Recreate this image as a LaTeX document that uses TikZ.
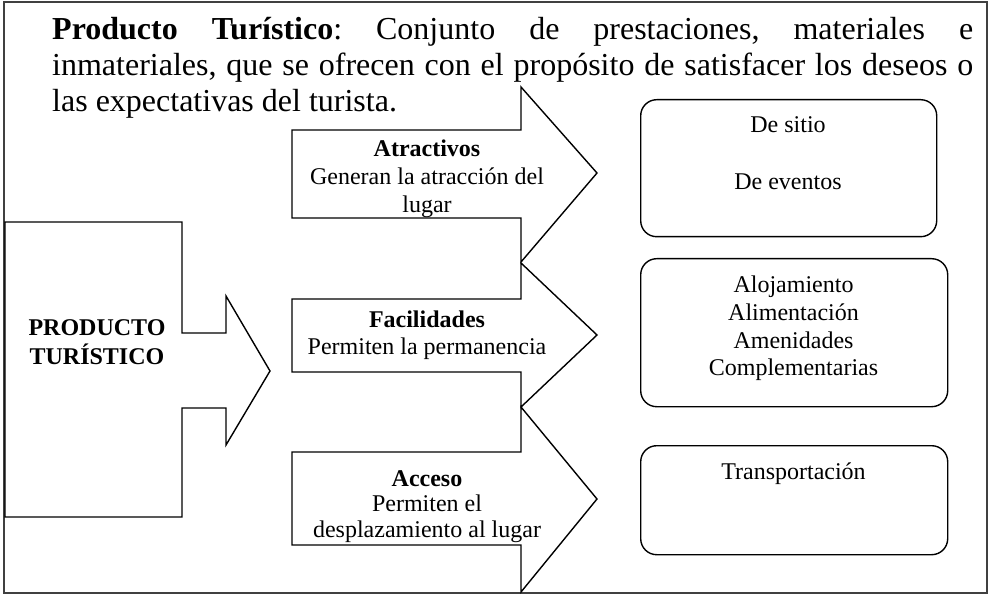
\documentclass[tikz,border=0pt]{standalone}
\usepackage{fontspec}
\setmainfont{Liberation Serif}
\frenchspacing
\begin{document}
\begin{tikzpicture}[x=1pt,y=-1pt,
  shp/.style={draw=black, line width=1.4pt, line join=miter},
  rbox/.style={draw=black, line width=1.4pt, rounded corners=16pt, inner sep=0pt},
  lbl/.style={font=\fontsize{24}{27.5}\selectfont, anchor=base, inner sep=0pt},
  ttl/.style={font=\fontsize{32}{36}\selectfont, anchor=base west, inner sep=0pt}]
\useasboundingbox (0,0) rectangle (991,596);
% outer frame
\draw[line width=2pt, black!75] (4,2) rectangle (987,593);
% big arrow
\draw[shp] (5,222) -- (182,222) -- (182,333) -- (226,333) -- (226,296) -- (270,371)
  -- (226,445) -- (226,408) -- (182,408) -- (182,517) -- (5,517) -- cycle;
% three arrows
\draw[shp] (292,130) -- (521,130) -- (521,87) -- (597,173) -- (521,262) -- (521,218) -- (292,218) -- cycle;
\draw[shp] (292,299) -- (521,299) -- (521,263) -- (597,335) -- (521,407) -- (521,372) -- (292,372) -- cycle;
\draw[shp] (292,452) -- (521,452) -- (521,407) -- (597,499) -- (521,592) -- (521,545) -- (292,545) -- cycle;
% rounded boxes
\node[rbox, minimum width=296pt, minimum height=137pt, anchor=north west] (b1) at (640,99) {};
\node[rbox, minimum width=307pt, minimum height=148pt, anchor=north west] (b2) at (640,258) {};
\node[rbox, minimum width=307pt, minimum height=109pt, anchor=north west] (b3) at (640,445) {};
% title
\node[ttl] (t1) at (52,40) {\makebox[921pt][s]{\textbf{Producto} \textbf{Turístico}: Conjunto de prestaciones, materiales e}};
\node[ttl] (t2) at (52,76) {\makebox[921pt][s]{inmateriales, que se ofrecen con el propósito de satisfacer los deseos o}};
\node[ttl] (t3) at (52,112) {las expectativas del turista.};
% big arrow label
\node[lbl] (p1) at (97,335) {\textbf{PRODUCTO}};
\node[lbl] (p2) at (97,364) {\textbf{TURÍSTICO}};
% arrow labels
\node[lbl] (a1) at (427,157) {\textbf{Atractivos}};
\node[lbl] (a2) at (427,185) {Generan la atracción del};
\node[lbl] (a3) at (427,213) {lugar};
\node[lbl] (f1) at (427,327) {\textbf{Facilidades}};
\node[lbl] (f2) at (427,354) {Permiten la permanencia};
\node[lbl] (c1) at (427,486) {\textbf{Acceso}};
\node[lbl] (c2) at (427,511) {Permiten el};
\node[lbl] (c3) at (427,537) {desplazamiento al lugar};
% box labels
\node[lbl] (d1) at (788,133) {De sitio};
\node[lbl] (d2) at (788,190) {De eventos};
\node[lbl] (e1) at (793.5,293) {Alojamiento};
\node[lbl] (e2) at (793.5,320.5) {Alimentación};
\node[lbl] (e3) at (793.5,348) {Amenidades};
\node[lbl] (e4) at (793.5,375.5) {Complementarias};
\node[lbl] (g1) at (793.5,479) {Transportación};
\end{tikzpicture}
\end{document}
